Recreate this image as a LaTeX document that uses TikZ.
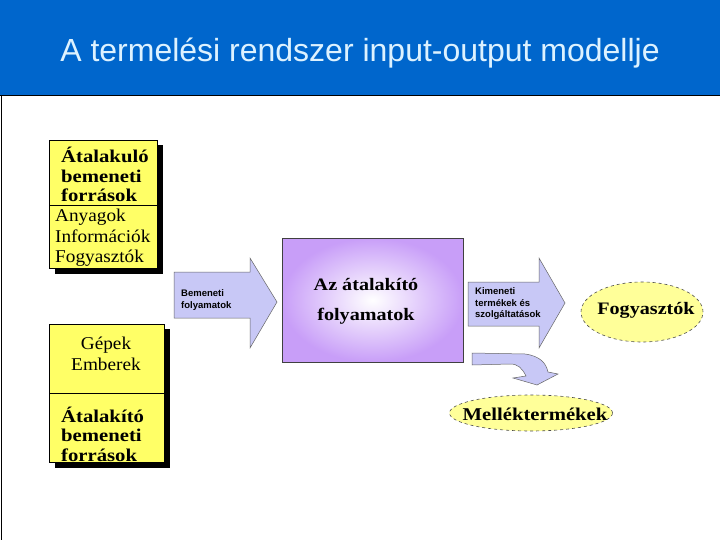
\documentclass[tikz,border=0pt]{standalone}
\usepackage{fontspec}
\setmainfont{Liberation Serif}
\setsansfont{Liberation Sans}
\newfontfamily\widebold[FakeStretch=1.15]{Liberation Serif Bold}
\newfontfamily\widenorm[FakeStretch=1.07]{Liberation Serif}
\definecolor{hdr}{HTML}{0066CC}
\definecolor{titletext}{HTML}{DDF2FF}
\definecolor{boxyellow}{HTML}{FFFF66}
\definecolor{ellyellow}{HTML}{FFFF99}
\definecolor{arrowblue}{HTML}{C8C8F6}
\definecolor{boxpurple}{HTML}{C89EF8}
\tikzset{
  ybox/.style={draw=black, line width=0.8pt, fill=boxyellow},
  shadowbox/.style={fill=black},
  boldtxt/.style={font=\widebold\fontsize{18}{19.5}\selectfont, align=left, inner sep=0pt},
  normtxt/.style={font=\widenorm\fontsize{18}{20.5}\selectfont, align=left, inner sep=0pt},
  smalltxt/.style={font=\sffamily\bfseries\fontsize{9.5}{11.5}\selectfont, align=left, inner sep=0pt},
  blockarrow/.style={fill=arrowblue, draw=black!60, line width=0.5pt},
  ell/.style={ellipse, draw=black!70, dashed, line width=0.6pt, fill=ellyellow, inner sep=0pt},
}
\usetikzlibrary{shapes.geometric}
\begin{document}
\begin{tikzpicture}[x=1pt,y=-1pt]
\useasboundingbox (0,0) rectangle (720,540);
\fill[white] (0,0) rectangle (720,540);
% header
\fill[hdr] (0,0) rectangle (720,95);
\draw[line width=1pt] (0,95.5) -- (720,95.5);
\draw[line width=1pt] (1,95) -- (1,540);
\node[text=titletext, font=\sffamily\fontsize{32}{36}\selectfont, inner sep=0pt] (title) at (360,53) {A termelési rendszer input-output modellje};

% left top box
\fill[shadowbox] (55,145) rectangle (163,274);
\draw[ybox] (49,140) rectangle (157,268);
\draw[line width=0.8pt] (49,205) -- (157,205);
\node[boldtxt, anchor=west] (tl) at (61,174.5) {Átalakuló\\bemeneti\\források};
\node[normtxt, anchor=west] (tl2) at (55,238) {Anyagok\\Információk\\Fogyasztók};

% left bottom box
\fill[shadowbox] (55,329) rectangle (170,468);
\draw[ybox] (49,324) rectangle (164,462);
\draw[line width=0.8pt] (49,393) -- (164,393);
\node[normtxt, align=center] (bl) at (106,354) {Gépek\\Emberek};
\node[boldtxt, anchor=west] (bl2) at (61,434) {Átalakító\\bemeneti\\források};

% input arrow
\draw[blockarrow] (174,272) -- (250,272) -- (250,258) -- (277,302) -- (250,348) -- (250,318) -- (174,318) -- cycle;
\node[smalltxt, anchor=west] (inlbl) at (181,300) {Bemeneti\\folyamatok};

% center box
\shade[inner color=white, outer color=boxpurple] (282,238) rectangle (463,362);
\draw[black!75, line width=0.8pt] (282,238) rectangle (463,362);
\node[font=\widebold\fontsize{17.5}{30}\selectfont, align=center, inner sep=0pt] (proc) at (366,301.5) {Az átalakító\\folyamatok};

% output arrow
\draw[blockarrow] (468,282) -- (539,282) -- (539,258) -- (565,303) -- (539,348) -- (539,326) -- (468,326) -- cycle;
\node[smalltxt, anchor=west] (outlbl) at (475,304) {Kimeneti\\termékek és\\szolgáltatások};

% consumers ellipse
\node[ell, minimum width=122pt, minimum height=60pt] (cons) at (642,312) {};
\node[font=\widebold\fontsize{17.5}{20}\selectfont, inner sep=0pt] (constxt) at (646,310) {Fogyasztók};

% curved arrow
\draw[blockarrow] (472,353) -- (525,354) .. controls (540,356) and (546,363) .. (548,372) -- (558,374) -- (537,385) -- (513,378) -- (526,376) .. controls (522,368) and (518,364) .. (510,364) -- (472,365) -- cycle;

% by-products ellipse
\node[ell, minimum width=163pt, minimum height=36pt] (byp) at (531,413) {};
\node[font=\widebold\fontsize{18}{20}\selectfont, inner sep=0pt] (byptxt) at (535,414) {Melléktermékek};
\end{tikzpicture}
\end{document}
